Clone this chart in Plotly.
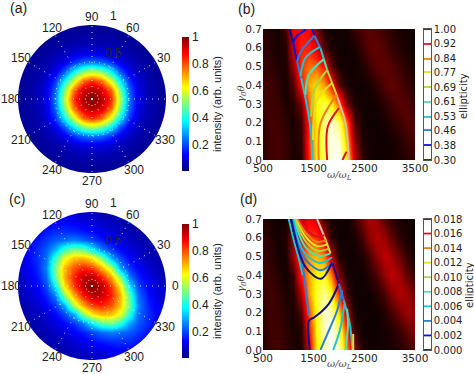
import numpy as np
import plotly.graph_objects as go

W, H = 474, 374

# ---------- data ----------
polar_grid = [-1, -.875, -.75, -.625, -.5, -.375, -.25, -.125, 0, .125, .25, .375, .5, .625, .75, .875, 1]

# panel (a): upper right quadrant, rows from y=0 to y=1, columns from x=0 to x=1
a_quadrant = [
    [1.00, .96, .84, .55, .25, .11, .060, .040, .030],
    [.96, .92, .78, .50, .23, .105, .058, .040, .030],
    [.84, .78, .60, .37, .18, .090, .055, .037, .030],
    [.55, .50, .37, .21, .11, .065, .045, .035, .028],
    [.25, .23, .18, .11, .075, .052, .038, .030, .027],
    [.11, .105, .09, .065, .052, .040, .032, .028, .025],
    [.060, .058, .055, .045, .038, .032, .028, .025, .022],
    [.040, .040, .037, .035, .030, .028, .025, .022, .020],
    [.030, .030, .030, .028, .027, .025, .022, .020, .020],
]

# panel (c): rows from y=1 down to y=0, columns from x=-1 to x=1
c_upper = [
    [.06, .07, .075, .085, .09, .09, .085, .075, .07, .06, .05, .042, .036, .03, .027, .024, .021],
    [.07, .08, .095, .11, .125, .13, .12, .10, .095, .08, .07, .055, .045, .04, .032, .027, .024],
    [.075, .095, .125, .15, .17, .175, .165, .15, .135, .11, .09, .07, .058, .05, .038, .032, .027],
    [.085, .11, .15, .185, .22, .24, .26, .235, .20, .16, .125, .10, .075, .06, .05, .038, .03],
    [.09, .125, .17, .22, .30, .43, .50, .47, .37, .26, .185, .135, .10, .075, .058, .05, .036],
    [.09, .13, .175, .24, .43, .61, .69, .70, .645, .52, .30, .20, .135, .095, .07, .055, .042],
    [.085, .12, .165, .26, .50, .69, .80, .85, .82, .72, .57, .30, .185, .13, .09, .065, .05],
    [.075, .10, .15, .235, .47, .70, .85, .94, .95, .86, .72, .52, .26, .165, .11, .08, .06],
    [.07, .095, .13, .20, .37, .645, .82, .95, 1.0, .95, .82, .645, .37, .20, .13, .095, .07],
]

intensity_ticks = [.2, .4, .6, .8, 1]
angle_ticks = [0, 30, 60, 90, 120, 150, 180, 210, 240, 270, 300, 330]
radius_ticks = [.5, 1]

freq = [500, 650, 800, 950, 1100, 1250, 1400, 1550, 1700, 1850, 2000, 2150, 2300, 2450, 2600, 2750, 2900, 3050, 3200, 3350, 3500]
angle_y = [0, .1, .2, .3, .4, .5, .6, .7]

b_map = [
    [.05, .08, .09, .07, .03, .03, .42, .70, .83, .97, 1, .72, .30, .06, .02, .01, .01, .02, .03, .04, .06],
    [.05, .08, .09, .06, .03, .05, .45, .72, .86, .98, .96, .62, .20, .04, .01, .01, .01, .02, .04, .07, .09],
    [.06, .09, .08, .05, .02, .07, .42, .70, .87, .95, .86, .50, .12, .02, .01, .01, .02, .05, .08, .11, .10],
    [.07, .08, .07, .03, .04, .16, .52, .74, .82, .74, .50, .15, .03, .01, .01, .02, .05, .09, .12, .10, .07],
    [.08, .08, .05, .02, .10, .38, .62, .70, .60, .40, .12, .02, .01, .01, .02, .06, .11, .13, .10, .07, .04],
    [.07, .06, .03, .03, .22, .44, .53, .50, .38, .12, .02, .01, .01, .03, .07, .12, .13, .10, .07, .04, .02],
    [.06, .04, .02, .04, .30, .41, .41, .32, .10, .02, .01, .01, .02, .07, .12, .13, .10, .06, .04, .02, .01],
    [.05, .03, .01, .09, .34, .38, .36, .18, .03, .01, .01, .02, .06, .10, .12, .10, .07, .04, .02, .01, .01],
]
d_map = [
    [.04, .07, .08, .06, .03, .02, .30, .70, .90, 1, .92, .58, .20, .03, .01, .01, .01, .02, .04, .06, .10],
    [.05, .08, .08, .05, .02, .04, .38, .72, .93, 1, .85, .42, .07, .01, .01, .01, .02, .04, .07, .13, .18],
    [.05, .08, .07, .04, .02, .10, .48, .76, .94, .93, .68, .25, .02, .01, .01, .01, .04, .09, .16, .22, .21],
    [.06, .08, .06, .03, .03, .25, .60, .78, .90, .77, .42, .07, .01, .01, .01, .04, .10, .19, .25, .22, .15],
    [.08, .07, .04, .01, .07, .40, .63, .74, .76, .56, .15, .02, .01, .01, .04, .10, .21, .27, .22, .13, .06],
    [.07, .05, .02, .02, .22, .44, .60, .64, .55, .25, .03, .01, .01, .03, .09, .20, .27, .22, .13, .06, .02],
    [.06, .04, .01, .04, .18, .36, .45, .45, .28, .05, .01, .01, .02, .08, .19, .25, .21, .12, .05, .02, .01],
    [.05, .02, .01, .02, .09, .26, .35, .29, .08, .02, .01, .01, .06, .16, .24, .21, .11, .05, .02, .01, .01],
]

level_colors = ["#10108a", "#0a10e0", "#2a7fd8", "#1fc4d0", "#50e0b0", "#a8d840", "#e8e020", "#f08010", "#e01020", "#800010"]
b_levels = [.30, .38, .46, .53, .61, .69, .77, .84, .92, 1.00]
b_labels = ["0.30", "0.38", "0.46", "0.53", "0.61", "0.69", "0.77", "0.84", "0.92", "1.00"]
d_levels = [0, .002, .004, .006, .008, .010, .012, .014, .016, .018]
d_labels = ["0.000", "0.002", "0.004", "0.006", "0.008", "0.010", "0.012", "0.014", "0.016", "0.018"]

# contour lines: (colour index, x values, y values)
b_lines = [
    (0, [1027, 1093], [.70, .629]),
    (1, [1093, 1172], [.629, .527]),
    (2, [1172, 1252], [.527, .438]),
    (3, [1252, 1357, 1449, 1469], [.438, .304, .143, 0]),
    (1, [1469, 1515], [.70, .664]),
    (2, [1515, 1634], [.664, .598]),
    (3, [1634, 1700], [.598, .539]),
    (4, [1700, 1766], [.539, .482]),
    (5, [1766, 1865], [.482, .411]),
    (6, [1865, 1964], [.411, .339]),
    ("#d8c0a0", [1964, 2128, 2194], [.339, .196, 0]),
    (1, [1093, 1172, 1350], [.629, .664, .697]),
    (2, [1172, 1271, 1515], [.527, .589, .664]),
    (3, [1238, 1337, 1621], [.447, .545, .604]),
    (4, [1337, 1403, 1700], [.348, .455, .539]),
    (5, [1449, 1515, 1766], [.232, .375, .482]),
    (6, [1489, 1568, 1865], [.107, .321, .411]),
    (7, [1601, 1634, 1950], [0, .196, .348]),
    (8, [1766, 1779, 1997], [0, .179, .277]),
    (8, [2069, 2148], [0, .045]),
]
d_lines = [
    (3, [1008, 1107, 1205, 1285], [.70, .587, .489, .399]),
    (2, [1074, 1271, 1337, 1403], [.70, .471, .337, .184]),
    (0, [1423, 1410, 1515, 1799, 1997], [0, .158, .175, .247, .354]),
    ("#f0c0b0", [1568, 1713], [.70, .605]),
    (6, [1713, 1832], [.605, .516]),
    (0, [1865, 1997], [.471, .354]),
    (2, [1997, 2095], [.354, .265]),
    (3, [2095, 2214, 2260], [.265, .14, 0]),
    (6, [2280, 2280], [.086, 0]),
    (8, [1205, 1403, 1568, 1713], [.70, .632, .605, .614]),
    (7, [1172, 1383, 1568, 1753], [.70, .614, .578, .587]),
    (6, [1140, 1370, 1568, 1779], [.70, .596, .555, .566]),
    (5, [1120, 1350, 1581, 1806], [.70, .578, .53, .542]),
    (4, [1107, 1337, 1601, 1832], [.70, .551, .503, .516]),
    (3, [1094, 1304, 1621, 1858], [.70, .524, .465, .494]),
    (2, [1074, 1271, 1634, 1885], [.70, .507, .426, .471]),
    (0, [1054, 1337, 1647, 1865], [.70, .444, .381, .471]),
    (2, [1634, 1799, 1964, 2063], [0, .104, .211, .319]),
    (3, [1885, 2016, 2109], [0, .104, .247]),
    (4, [2128, 2175, 2161], [0, .122, .22]),
]

# ---------- helpers ----------
def dom_x(a, b):
    return [a / W, b / W]

def dom_y(top, bottom):
    return [1 - bottom / H, 1 - top / H]

JET = [[0, "#000080"], [.125, "#0000ff"], [.375, "#00ffff"], [.625, "#ffff00"], [.875, "#ff0000"], [1, "#800000"]]
HOT = [[0, "#0a0000"], [.365, "#ff0000"], [.746, "#ffff00"], [1, "#ffffff"]]
INK = "#222222"
SANS = "Liberation Sans, Arial, sans-serif"
DEJA = "DejaVu Sans, sans-serif"

a_rows = [r[:0:-1] + r for r in a_quadrant]
a_map = a_rows[:0:-1] + a_rows
c_map = [r[::-1] for r in c_upper[:-1]] + [c_upper[-1]] + c_upper[-2::-1]

fig = go.Figure()
annotations = []

def text(x, y, s, size=12, font=SANS, color=INK, angle=0):
    annotations.append(dict(x=x / W, y=1 - y / H, xref="paper", yref="paper", text=s, showarrow=False,
                            font=dict(size=size, family=font, color=color), textangle=angle,
                            xanchor="center", yanchor="middle"))

circle = np.linspace(0, -2 * np.pi, 181)
mask_x = [-1.05, 1.05, 1.05, -1.05, -1.05, 1.0] + list(np.cos(circle)) + [-1.05]
mask_y = [-1.05, -1.05, 1.05, 1.05, -1.05, 0.0] + list(np.sin(circle)) + [-1.05]

layout_axes = {}

def polar_panel(idx, z, top, cb_top):
    suf = "" if idx == 1 else str(idx)
    fig.add_trace(go.Heatmap(
        x=polar_grid, y=polar_grid, z=z, zsmooth="best", colorscale=JET, zmin=.01, zmax=1,
        hoverinfo="skip", xaxis="x" + suf, yaxis="y" + suf,
        colorbar=dict(x=182 / W, xanchor="left", y=1 - (cb_top + 134) / H, yanchor="bottom",
                      lenmode="pixels", len=134, thicknessmode="pixels", thickness=7,
                      xpad=0, ypad=0, outlinewidth=0, tickvals=intensity_ticks,
                      ticktext=["0.2", "0.4", "0.6", "0.8", "1"], ticks="",
                      tickfont=dict(size=12, family=SANS, color=INK),
                      title=dict(text="intensity (arb. units)", side="right",
                                 font=dict(size=11, family=SANS, color=INK)))))
    fig.add_trace(go.Scatter(x=mask_x, y=mask_y, mode="none", fill="toself", fillcolor="white",
                             hoverinfo="skip", showlegend=False, xaxis="x" + suf, yaxis="y" + suf))
    layout_axes["xaxis" + suf] = dict(domain=dom_x(18, 166), range=[-1, 1], visible=False, anchor="y" + suf)
    layout_axes["yaxis" + suf] = dict(domain=dom_y(top, top + 148), range=[-1, 1], visible=False, anchor="x" + suf)
    pname = "polar" + ("" if idx == 1 else str(idx))
    fig.add_trace(go.Scatterpolar(r=[0], theta=[0], mode="markers", marker=dict(opacity=0),
                                  hoverinfo="skip", showlegend=False, subplot=pname))
    layout_axes[pname] = dict(
        domain=dict(x=dom_x(18, 166), y=dom_y(top, top + 148)), bgcolor="rgba(0,0,0,0)",
        radialaxis=dict(range=[0, 1], tickvals=radius_ticks, showticklabels=False, ticks="",
                        showline=False, gridcolor="rgba(255,255,255,.9)", griddash="1px,4px", gridwidth=1),
        angularaxis=dict(tickvals=angle_ticks, direction="counterclockwise", rotation=0, showline=False,
                         gridcolor="rgba(255,255,255,.85)", griddash="1px,5px", gridwidth=1, ticks="",
                         showticklabels=False))

def hot_panel(idx, z, lines, top):
    suf = str(idx)
    fig.add_trace(go.Heatmap(x=freq, y=angle_y, z=z, zsmooth="best", colorscale=HOT, zmin=0, zmax=1,
                             showscale=False, hoverinfo="skip", xaxis="x" + suf, yaxis="y" + suf))
    for c, xs, ys in lines:
        col = level_colors[c] if isinstance(c, int) else c
        fig.add_trace(go.Scatter(x=xs, y=ys, mode="lines", line=dict(color=col, width=2, shape="spline", smoothing=.9),
                                 hoverinfo="skip", showlegend=False, xaxis="x" + suf, yaxis="y" + suf))
    layout_axes["xaxis" + suf] = dict(domain=dom_x(263, 415), range=[500, 3500], tickvals=[500, 1500, 2500, 3500],
                                      ticks="", showgrid=False, zeroline=False, anchor="y" + suf,
                                      tickfont=dict(size=10.5, family=DEJA, color=INK))
    layout_axes["yaxis" + suf] = dict(domain=dom_y(top, top + 131), range=[0, .7], tickvals=angle_y,
                                      ticktext=["0.0", "0.1", "0.2", "0.3", "0.4", "0.5", "0.6", "0.7"],
                                      ticks="", showgrid=False, zeroline=False, anchor="x" + suf,
                                      tickfont=dict(size=10.5, family=DEJA, color=INK))

def level_bar(idx, levels, labels, top):
    suf = str(idx)
    for lev, col in zip(levels, level_colors):
        fig.add_trace(go.Scatter(x=[0, 1], y=[lev, lev], mode="lines", line=dict(color=col, width=1.8),
                                 hoverinfo="skip", showlegend=False, xaxis="x" + suf, yaxis="y" + suf))
    layout_axes["xaxis" + suf] = dict(domain=dom_x(424, 431), range=[0, 1], showticklabels=False, ticks="",
                                      showgrid=False, zeroline=False, showline=True, linecolor="#555", linewidth=.6,
                                      mirror=True, anchor="y" + suf)
    layout_axes["yaxis" + suf] = dict(domain=dom_y(top, top + 131), range=[levels[0], levels[-1]], tickvals=levels,
                                      ticktext=labels, side="right", ticks="", showgrid=False, zeroline=False,
                                      showline=True, linecolor="#555", linewidth=.6, mirror=True, anchor="x" + suf,
                                      tickfont=dict(size=10, family=DEJA, color=INK))

polar_panel(1, a_map, 25, 37)
polar_panel(2, c_map, 212, 224)
hot_panel(3, b_map, b_lines, 29)
hot_panel(4, d_map, d_lines, 219)
level_bar(5, b_levels, b_labels, 29)
level_bar(6, d_levels, d_labels, 219)

angle_label_pos = [(175, 99), (164, 58), (133, 28), (92, 17), (52, 28), (21, 58),
                   (11, 99), (21, 140), (52, 170), (92, 181), (134, 170), (165, 140)]
for dy in (0, 187):
    for a, (px, py) in zip(angle_ticks, angle_label_pos):
        text(px, py + dy, str(a), 12)
    text(113, 16 + dy, "1", 12)
    text(113, 53 + dy, "0.5", 12)
text(18, 8, "(a)", 14)
text(17, 199, "(c)", 14)
text(247, 9, "(b)", 14)
text(248, 199, "(d)", 14)
for y in (175, 364):
    text(339, y, "<i>ω/ω<sub>L</sub></i>", 10, "DejaVu Serif, serif", "#444444")
for y in (94, 284):
    text(241, y, "<i>γ<sub>0</sub>θ</i>", 10, "DejaVu Serif, serif", "#444444", -90)
text(463, 96, "ellipticity", 10, DEJA, INK, -90)
text(469, 285, "ellipticity", 10, DEJA, INK, -90)

fig.update_layout(width=W, height=H, margin=dict(l=0, r=0, t=0, b=0, autoexpand=False), paper_bgcolor="white", plot_bgcolor="white",
                  showlegend=False, annotations=annotations, **layout_axes)
fig.write_html("out.html", config=dict(displayModeBar=False),
               post_script="document.body.style.margin='0';document.documentElement.style.overflow='hidden';")
